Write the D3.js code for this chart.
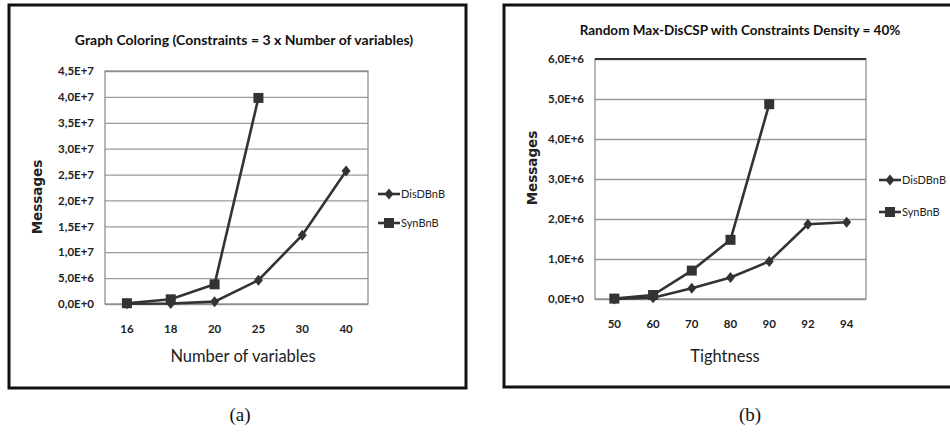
<!DOCTYPE html>
<html>
<head>
<meta charset="utf-8">
<script src="https://cdn.jsdelivr.net/npm/d3@7"></script>
<style>
  body { margin: 0; background: #fff; }
</style>
</head>
<body>
<script>
// donnees graphe (a)
var varsCategories = ["16", "18", "20", "25", "30", "40"];
var varsDisDBnB = [0.05e6, 0.1e6, 0.45e6, 4.6e6, 13.3e6, 25.7e6];
var varsSynBnB = [0.15e6, 0.9e6, 3.8e6, 39.8e6];
var varsTicks = [0, 5e6, 1e7, 1.5e7, 2e7, 2.5e7, 3e7, 3.5e7, 4e7, 4.5e7];

// donnees graphe (b)
var tightCategories = ["50", "60", "70", "80", "90", "92", "94"];
var tightDisDBnB = [0.0, 0.03e6, 0.27e6, 0.54e6, 0.94e6, 1.87e6, 1.92e6];
var tightSynBnB = [0.01e6, 0.1e6, 0.71e6, 1.48e6, 4.87e6];
var tightTicks = [0, 1e6, 2e6, 3e6, 4e6, 5e6, 6e6];

var seriesNames = ["DisDBnB", "SynBnB"];

var svgC = d3.select("body").append("svg").attr("width", 950).attr("height", 437);

var lineColor = "#333333";
var gridColor = "#9a9a9a";
var narrow = "Lato, 'Open Sans', sans-serif";

function fmtE(v) {
  return v.toExponential(1).replace(".", ",").replace("e", "E");
}

function diamond(g, x, y) {
  g.append("path")
    .attr("d", "M" + x + "," + (y - 5.5) + "L" + (x + 4.5) + "," + y + "L" + x + "," + (y + 5.5) + "L" + (x - 4.5) + "," + y + "Z")
    .style("fill", lineColor);
}

function square(g, x, y) {
  g.append("rect")
    .attr("x", x - 5)
    .attr("y", y - 5)
    .attr("width", 10)
    .attr("height", 10)
    .style("fill", lineColor);
}

function drawChart(c) {
  // cadre noir
  svgC.append("rect")
    .attr("x", c.frame[0]).attr("y", c.frame[1])
    .attr("width", c.frame[2]).attr("height", c.frame[3])
    .style("fill", "none").style("stroke", "#111").style("stroke-width", 3);

  var x = d3.scaleBand().domain(c.categories).range([c.left, c.right]);
  var y = d3.scaleLinear().domain([0, c.ticks[c.ticks.length - 1]]).range([c.bottom, c.top]);

  // grille + etiquettes Y
  var yAxis = svgC.append("g")
    .attr("transform", "translate(" + c.left + ",0)")
    .call(d3.axisLeft(y).tickValues(c.ticks).tickFormat(fmtE).tickSize(-(c.right - c.left)).tickPadding(11));
  yAxis.select(".domain").remove();
  yAxis.selectAll("line").style("stroke", gridColor).style("stroke-width", 1.3);
  yAxis.selectAll("text").style("font-family", narrow).style("font-size", "11.5px").style("font-weight", "bold").style("fill", "#222");

  // bord de la zone de trace
  svgC.append("rect")
    .attr("x", c.left).attr("y", c.top)
    .attr("width", c.right - c.left).attr("height", c.bottom - c.top)
    .style("fill", "none").style("stroke", "#888").style("stroke-width", 1.2);
  if (c.darkTop) {
    svgC.append("line")
      .attr("x1", c.left).attr("x2", c.right).attr("y1", c.top).attr("y2", c.top)
      .style("stroke", "#333").style("stroke-width", 2);
  }

  // etiquettes X
  var xAxis = svgC.append("g")
    .attr("transform", "translate(0," + c.bottom + ")")
    .call(d3.axisBottom(x).tickSize(0).tickPadding(21));
  xAxis.select(".domain").remove();
  xAxis.selectAll("text").style("font-family", narrow).style("font-size", "11.5px").style("font-weight", "bold").style("fill", "#222");

  // titres
  svgC.append("text")
    .attr("x", c.titleX).attr("y", c.titleY)
    .style("text-anchor", "middle").style("font-family", narrow)
    .style("font-size", c.titleSize).style("font-weight", "bold").style("fill", "#111")
    .text(c.title);

  svgC.append("text")
    .attr("x", c.xTitleX).attr("y", c.xTitleY)
    .style("text-anchor", "middle").style("font-family", narrow)
    .style("font-size", "16.5px").style("fill", "#222")
    .text(c.xTitle);

  svgC.append("text")
    .attr("transform", "translate(" + c.yTitleX + "," + c.yTitleY + ") rotate(-90)")
    .style("text-anchor", "middle").style("font-family", "'DejaVu Sans', sans-serif")
    .style("font-size", "13.5px").style("font-weight", "bold").style("fill", "#222")
    .text("Messages");

  // courbes
  var cx = function(d, i) { return x(c.categories[i]) + x.bandwidth() / 2; };
  var line = d3.line().x(cx).y(function(d) { return y(d); });
  var series = [c.dis, c.syn];

  series.forEach(function(s, k) {
    svgC.append("path")
      .attr("d", line(s))
      .style("fill", "none").style("stroke", lineColor).style("stroke-width", 2.6);
  });
  series.forEach(function(s, k) {
    var g = svgC.append("g");
    s.forEach(function(d, i) {
      if (k === 0) diamond(g, cx(d, i), y(d));
      else square(g, cx(d, i), y(d));
    });
  });

  // legende
  seriesNames.forEach(function(name, k) {
    var ly = c.legendY[k];
    svgC.append("line")
      .attr("x1", c.legendX).attr("x2", c.legendX + 22).attr("y1", ly).attr("y2", ly)
      .style("stroke", lineColor).style("stroke-width", 2.6);
    if (k === 0) diamond(svgC, c.legendX + 11, ly);
    else square(svgC, c.legendX + 11, ly);
    svgC.append("text")
      .attr("x", c.legendX + 23).attr("y", ly).attr("dy", "0.35em")
      .style("font-family", narrow).style("font-size", "11px").style("fill", "#222")
      .text(name);
  });

  // legende (a)/(b)
  svgC.append("text")
    .attr("x", c.captionX).attr("y", 414).attr("dy", "0.35em")
    .style("text-anchor", "middle").style("font-family", "'Liberation Serif', serif")
    .style("font-size", "19px").style("fill", "#111")
    .text(c.caption);
}

drawChart({
  frame: [9, 5, 457, 383],
  categories: varsCategories, dis: varsDisDBnB, syn: varsSynBnB, ticks: varsTicks,
  left: 105, right: 368, top: 71, bottom: 304,
  title: "Graph Coloring (Constraints  = 3 x Number of variables)", titleX: 244, titleY: 45, titleSize: "14px",
  xTitle: "Number of variables", xTitleX: 243, xTitleY: 362,
  yTitleX: 42, yTitleY: 197,
  legendX: 378, legendY: [194, 223],
  captionX: 240, caption: "(a)", darkTop: false
});

drawChart({
  frame: [504, 5, 452, 382],
  categories: tightCategories, dis: tightDisDBnB, syn: tightSynBnB, ticks: tightTicks,
  left: 595, right: 866, top: 59, bottom: 299,
  title: "Random Max-DisCSP with Constraints Density = 40%", titleX: 740, titleY: 35, titleSize: "13.5px",
  xTitle: "Tightness", xTitleX: 725, xTitleY: 362,
  yTitleX: 537, yTitleY: 168,
  legendX: 879, legendY: [180, 212],
  captionX: 750, caption: "(b)", darkTop: true
});
</script>
</body>
</html>
